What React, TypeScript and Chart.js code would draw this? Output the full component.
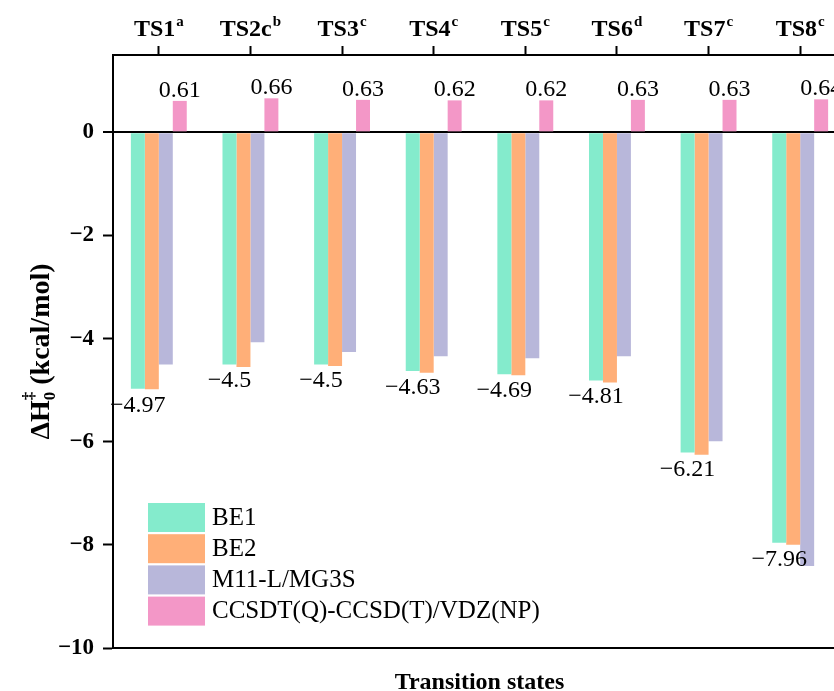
import React, { useEffect, useRef } from 'react';
import { Chart, registerables } from 'chart.js';

Chart.register(...registerables);

const categories = ['TS1', 'TS2c', 'TS3', 'TS4', 'TS5', 'TS6', 'TS7', 'TS8'];
const notes = ['a', 'b', 'c', 'c', 'c', 'd', 'c', 'c'];
const be1 = [-4.97, -4.5, -4.5, -4.63, -4.69, -4.81, -6.21, -7.96];
const be2 = [-4.98, -4.55, -4.53, -4.66, -4.71, -4.85, -6.25, -8.0];
const m11 = [-4.5, -4.07, -4.26, -4.34, -4.38, -4.34, -5.99, -8.41];
const ccsdt = [0.61, 0.66, 0.63, 0.62, 0.62, 0.63, 0.63, 0.64];
const seriesNames = ['BE1', 'BE2', 'M11-L/MG3S', 'CCSDT(Q)-CCSD(T)/VDZ(NP)'];
const seriesColors = ['#84EBCC', '#FFAF78', '#B8B7DA', '#F397C7'];
const yTicks = [0, -2, -4, -6, -8, -10];
const Y_MIN = -10;
const Y_MAX = 1.5;
const X_TITLE = 'Transition states';

const SERIF = '"Liberation Serif", "Times New Roman", Times, serif';

const fmt = (v: number) => (v < 0 ? '\u2212' + String(Math.abs(v)) : String(v));

const annotPlugin = {
  id: 'annot',
  afterDraw(chart: any) {
    const ctx = chart.ctx as CanvasRenderingContext2D;
    const ca = chart.chartArea;
    const xs = chart.scales.x;
    ctx.save();
    // frame bottom & right
    ctx.strokeStyle = '#000';
    ctx.lineWidth = 2;
    ctx.beginPath();
    ctx.moveTo(ca.left - 1, ca.bottom);
    ctx.lineTo(ca.right, ca.bottom);
    ctx.lineTo(ca.right, ca.top);
    ctx.stroke();

    // value labels
    ctx.fillStyle = '#000';
    ctx.textAlign = 'center';
    ctx.textBaseline = 'alphabetic';
    ctx.font = `24px ${SERIF}`;
    const m0 = chart.getDatasetMeta(0);
    m0.data.forEach((bar: any, i: number) => {
      ctx.fillText(fmt(be1[i]), bar.x, bar.y + 23);
    });
    const m3 = chart.getDatasetMeta(3);
    m3.data.forEach((bar: any, i: number) => {
      ctx.fillText(fmt(ccsdt[i]), bar.x, bar.y - 4);
    });

    // top category labels with superscripts
    categories.forEach((c, i) => {
      const cx = xs.getPixelForValue(i);
      ctx.font = `bold 24px ${SERIF}`;
      const w1 = ctx.measureText(c).width;
      ctx.font = `bold 15px ${SERIF}`;
      const w2 = ctx.measureText(notes[i]).width;
      const start = cx - (w1 + 1 + w2) / 2;
      ctx.textAlign = 'left';
      ctx.font = `bold 24px ${SERIF}`;
      ctx.fillText(c, start, 36);
      ctx.font = `bold 15px ${SERIF}`;
      ctx.fillText(notes[i], start + w1 + 1, 26);
    });

    // x title
    ctx.textAlign = 'center';
    ctx.font = `bold 24px ${SERIF}`;
    ctx.fillText(X_TITLE, (ca.left + ca.right) / 2, 689);

    // y title
    ctx.save();
    const cy = (ca.top + ca.bottom) / 2;
    ctx.translate(49, cy);
    ctx.rotate(-Math.PI / 2);
    ctx.textAlign = 'left';
    const big = `bold 28px ${SERIF}`;
    const small = `bold 17px ${SERIF}`;
    ctx.font = big;
    const a = '\u0394H';
    const wa = ctx.measureText(a).width;
    const rest = ' (kcal/mol)';
    const wr = ctx.measureText(rest).width;
    ctx.font = small;
    const wsub = Math.max(ctx.measureText('0').width, ctx.measureText('\u2021').width);
    const total = wa + wsub + wr;
    const x0 = -total / 2;
    ctx.font = big;
    ctx.fillText(a, x0, 0);
    ctx.font = small;
    ctx.fillText('0', x0 + wa, 6);
    ctx.fillText('\u2021', x0 + wa, -15);
    ctx.font = big;
    ctx.fillText(rest, x0 + wa + wsub, 0);
    ctx.restore();

    // legend
    const lx = ca.left + 35;
    const top0 = 503;
    const step = 31.2;
    seriesNames.forEach((name, i) => {
      const y = top0 + i * step;
      ctx.fillStyle = seriesColors[i];
      ctx.fillRect(lx, y, 57, 29);
      ctx.fillStyle = '#000';
      ctx.textAlign = 'left';
      ctx.textBaseline = 'middle';
      ctx.font = `25px ${SERIF}`;
      ctx.fillText(name, lx + 64, y + 15);
    });
    ctx.restore();
  },
};

export default function App() {
  const ref = useRef<HTMLCanvasElement | null>(null);
  useEffect(() => {
    if (!ref.current) return;
    const series = [be1, be2, m11, ccsdt];
    const chart = new Chart(ref.current, {
      type: 'bar',
      data: {
        labels: categories,
        datasets: series.map((d, i) => ({
          label: seriesNames[i],
          data: d,
          backgroundColor: seriesColors[i],
          borderWidth: 0,
          categoryPercentage: 0.61,
          barPercentage: 1.0,
        })),
      },
      options: {
        animation: false,
        responsive: false,
        devicePixelRatio: 1,
        layout: { padding: { left: 0, right: 14, top: 0, bottom: 43 } },
        plugins: { legend: { display: false }, tooltip: { enabled: false } },
        scales: {
          x: {
            position: 'top',
            offset: true,
            afterFit: (s: any) => {
              s.height = 55;
            },
            grid: {
              offset: false,
              drawOnChartArea: false,
              drawTicks: true,
              tickLength: 9,
              tickColor: '#000',
              tickWidth: 2,
            },
            border: { display: true, color: '#000', width: 2 },
            ticks: { display: false },
          },
          y: {
            min: Y_MIN,
            max: Y_MAX,
            z: 1,
            afterBuildTicks: (s: any) => {
              s.ticks = yTicks.map((v) => ({ value: v }));
            },
            afterFit: (s: any) => {
              s.width = 113;
            },
            grid: {
              drawOnChartArea: true,
              color: (c: any) => (c.tick && c.tick.value === 0 ? '#000' : 'rgba(0,0,0,0)'),
              lineWidth: (c: any) => (c.tick && c.tick.value === 0 ? 2 : 1),
              tickColor: '#000',
              tickWidth: 2,
              tickLength: 10,
            },
            border: { display: true, color: '#000', width: 2 },
            ticks: {
              color: '#000',
              padding: 9,
              font: { family: SERIF, size: 23, weight: 'bold' },
              callback: (v: any) => fmt(Number(v)),
            },
          },
        },
      },
      plugins: [annotPlugin],
    } as any);
    return () => chart.destroy();
  }, []);
  return (
    <div
      style={{
        position: 'fixed',
        left: 0,
        top: 0,
        width: 834,
        height: 691,
        overflow: 'hidden',
        background: '#fff',
      }}
    >
      <canvas ref={ref} width={860} height={691} style={{ display: 'block', width: 860, height: 691 }} />
    </div>
  );
}
